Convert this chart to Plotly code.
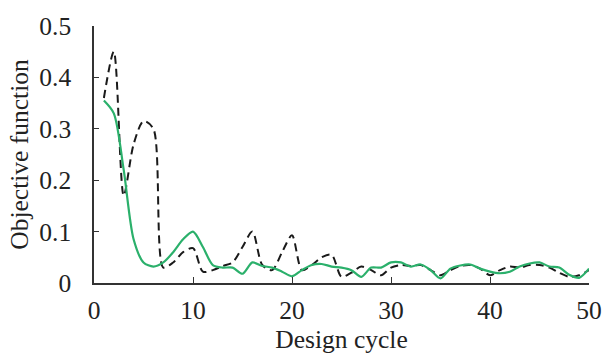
import plotly.graph_objects as go

cycles = list(range(1, 51))
baseline = [0.36, 0.45, 0.17, 0.27, 0.315, 0.30, 0.03, 0.04, 0.06, 0.068,
            0.022, 0.025, 0.033, 0.04, 0.07, 0.10, 0.035, 0.025, 0.06, 0.093,
            0.025, 0.035, 0.05, 0.055, 0.012, 0.02, 0.032, 0.025, 0.015, 0.03,
            0.035, 0.033, 0.035, 0.025, 0.015, 0.025, 0.033, 0.035, 0.028, 0.015,
            0.025, 0.032, 0.03, 0.035, 0.035, 0.03, 0.02, 0.012, 0.015, 0.025]
improved = [0.355, 0.33, 0.22, 0.085, 0.04, 0.032, 0.04, 0.06, 0.085, 0.10,
            0.07, 0.035, 0.03, 0.03, 0.018, 0.04, 0.033, 0.03, 0.022, 0.013,
            0.025, 0.035, 0.037, 0.032, 0.03, 0.025, 0.012, 0.03, 0.03, 0.04,
            0.04, 0.032, 0.036, 0.025, 0.009, 0.028, 0.034, 0.036, 0.028, 0.022,
            0.019, 0.022, 0.032, 0.038, 0.04, 0.032, 0.03, 0.016, 0.01, 0.028]

x_ticks = [0, 10, 20, 30, 40, 50]
y_ticks = [0, 0.1, 0.2, 0.3, 0.4, 0.5]
y_labels = ["0", "0.1", "0.2", "0.3", "0.4", "0.5"]

fam = "Liberation Serif, Times New Roman, serif"
font = dict(family=fam, size=25.5, color="#222")

fig = go.Figure()
fig.add_trace(go.Scatter(x=cycles, y=baseline, mode="lines",
                         line=dict(color="#1a1a1a", width=2, dash="8px,5px", shape="spline", smoothing=0.8)))
fig.add_trace(go.Scatter(x=cycles, y=improved, mode="lines",
                         line=dict(color="#2bb06b", width=2.2, shape="spline", smoothing=0.8)))

fig.update_layout(
    width=614, height=364,
    margin=dict(l=94, r=16, t=16, b=81),
    paper_bgcolor="white", plot_bgcolor="white",
    showlegend=False,
    font=font,
    xaxis=dict(range=[0, 50], tickvals=x_ticks, ticks="inside", ticklen=6, tickcolor="#333",
               showline=True, linecolor="#333", linewidth=1.5, showgrid=False, zeroline=False,
               ticklabelstandoff=4,
               title=dict(text="Design cycle", standoff=0, font=font), tickfont=font),
    yaxis=dict(range=[0, 0.5], tickvals=y_ticks, ticktext=y_labels, ticks="inside", ticklen=5,
               tickcolor="#333", showline=True, linecolor="#333", linewidth=1.5, showgrid=False,
               zeroline=False, ticklabelstandoff=16,
               title=dict(text="Objective function", standoff=3, font=font), tickfont=font),
)
fig.write_html("out.html")
